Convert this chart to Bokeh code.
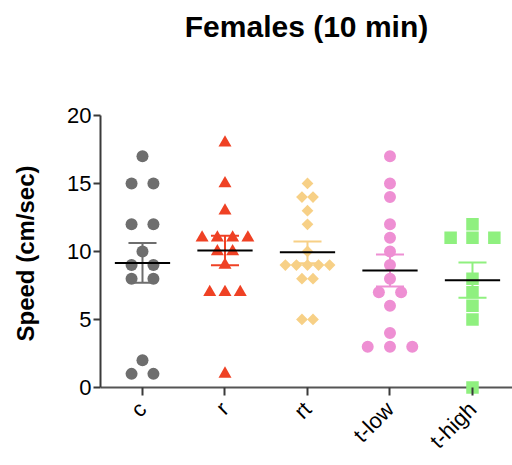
import numpy as np
from bokeh.plotting import figure
from bokeh.models import Range1d, FixedTicker, Span, Title
from bokeh.embed import file_html
from bokeh.resources import INLINE

groups = ["c", "r", "rt", "t-low", "t-high"]
c_vals = [17, 15, 15, 12, 12, 10, 9, 9, 8, 8, 2, 1, 1]
r_vals = [18, 15, 13, 11, 11, 11, 11, 10, 10, 9, 7, 7, 7, 1]
rt_vals = [15, 14, 14, 13, 12, 10, 9, 9, 9, 9, 9, 8, 8, 5, 5]
tlow_vals = [17, 15, 14, 12, 11, 10, 9, 8, 7, 7, 6, 4, 3, 3, 3]
thigh_vals = [12, 11, 11, 11, 8, 7, 6, 5, 0]
y_ticks = [0, 5, 10, 15, 20]
title_text = "Females (10 min)"

series = [c_vals, r_vals, rt_vals, tlow_vals, thigh_vals]
colors = ["#6e6e6e", "#ef4124", "#f7d086", "#ee8fd3", "#8ff07f"]
markers = ["circle", "triangle", "square", "circle", "square"]
sizes = [12, 13, 8.3, 12, 12.5]
angles = [0, 0, np.pi / 4, 0, 0]
spacing = [0.265, 0.185, 0.134, 0.27, 0.265]

FONT = "Liberation Sans"
X0, X1 = -0.509, 4.485
Y0, Y1 = -0.59, 20.29

p = figure(width=512, height=465, output_backend="svg", toolbar_location=None,
           x_range=Range1d(X0, X1), y_range=Range1d(Y0, Y1),
           min_border_left=100, min_border_right=0, min_border_top=111,
           min_border_bottom=70)
p.outline_line_color = None
p.xgrid.visible = False
p.ygrid.visible = False
p.background_fill_color = "white"
p.border_fill_color = "white"

p.title.text = title_text
p.title.align = "center"
p.title.text_font = FONT
p.title.text_font_size = "30px"
p.title.text_font_style = "bold"
p.title.text_color = "black"
p.title.standoff = 0

# spacer between the title and the plot frame
p.add_layout(Title(text=" ", text_font_size="2px", standoff=65), "above")

# baseline (x axis line at y = 0), drawn beneath the marks
p.add_layout(Span(location=0, dimension="width", line_color="#555555",
                  line_width=2, level="underlay"))

for gi, vals in enumerate(series):
    vals = np.array(vals, dtype=float)
    xs = np.zeros(len(vals))
    for v in np.unique(vals):
        idx = np.where(vals == v)[0]
        n = len(idx)
        for k, i in enumerate(idx):
            xs[i] = gi + (k - (n - 1) / 2) * spacing[gi]
    p.scatter(xs, vals, marker=markers[gi], size=sizes[gi], angle=angles[gi],
              fill_color=colors[gi], line_color=None)
    m = vals.mean()
    sem = vals.std(ddof=1) / np.sqrt(len(vals))
    col = colors[gi]
    p.segment([gi], [m - sem], [gi], [m + sem], line_color=col, line_width=2)
    p.segment([gi - 0.17, gi - 0.17], [m - sem, m + sem], [gi + 0.17, gi + 0.17],
              [m - sem, m + sem], line_color=col, line_width=2)
    p.segment([gi - 0.335], [m], [gi + 0.335], [m], line_color="black", line_width=2)

ax = p.yaxis[0]
ax.ticker = FixedTicker(ticks=y_ticks)
ax.bounds = (0, 20)
ax.axis_label = "Speed (cm/sec)"
ax.axis_label_text_font = FONT
ax.axis_label_text_font_style = "bold"
ax.axis_label_text_font_size = "24px"
ax.axis_label_text_color = "black"
ax.axis_label_standoff = 25
ax.major_label_text_font = FONT
ax.major_label_text_font_size = "22px"
ax.major_label_text_color = "black"
ax.major_label_standoff = 2
ax.minor_tick_line_color = None
ax.major_tick_in = 0
ax.major_tick_out = 7
ax.axis_line_width = 2
ax.axis_line_color = "#3a3a3a"
ax.major_tick_line_width = 2
ax.major_tick_line_color = "#3a3a3a"

xa = p.xaxis[0]
xa.ticker = FixedTicker(ticks=list(range(len(groups))))
xa.major_label_overrides = {i: g for i, g in enumerate(groups)}
xa.major_label_orientation = np.pi / 4
xa.major_label_text_font = FONT
xa.major_label_text_font_size = "22px"
xa.major_label_text_color = "black"
xa.major_label_standoff = 10
xa.minor_tick_line_color = None
xa.axis_line_color = None
xa.major_tick_in = 8
xa.major_tick_out = 0
xa.major_tick_line_width = 2
xa.major_tick_line_color = "#3a3a3a"

open("out.html", "w").write(file_html(p, INLINE))
